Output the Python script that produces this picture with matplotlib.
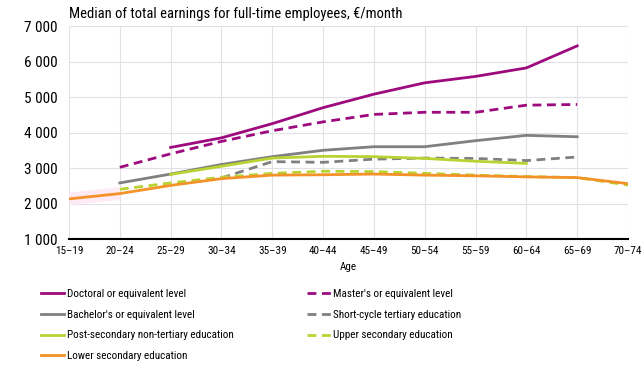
import matplotlib.pyplot as plt
import numpy as np

plt.rcParams['font.family'] = ['Roboto Condensed', 'DejaVu Sans']

ages = ["15\u201319", "20\u201324", "25\u201329", "30\u201334", "35\u201339", "40\u201344",
        "45\u201349", "50\u201354", "55\u201359", "60\u201364", "65\u201369", "70\u201374"]
nan = np.nan
doctoral = [nan, nan, 3580, 3850, 4250, 4700, 5080, 5400, 5580, 5820, 6440, nan]
master = [nan, 3020, 3400, 3750, 4050, 4300, 4510, 4570, 4570, 4770, 4790, nan]
bachelor = [nan, 2580, 2830, 3100, 3320, 3500, 3600, 3600, 3770, 3920, 3880, nan]
short_cycle = [nan, nan, nan, 2720, 3180, 3160, 3250, 3280, 3270, 3210, 3310, nan]
post_sec = [nan, nan, 2820, 3050, 3280, 3330, 3320, 3270, 3190, 3130, nan, nan]
upper_sec = [nan, 2400, 2580, 2740, 2850, 2910, 2900, 2850, 2800, 2760, 2730, 2520]
lower_sec = [2130, 2280, 2510, 2700, 2800, 2810, 2830, 2800, 2780, 2750, 2730, 2560]

purple = '#9c0a7e'
grey = '#808080'
green = '#b8d432'
orange = '#f39228'

fig = plt.figure(figsize=(6.43, 3.70), dpi=100)
ax = fig.add_axes([0.1073, 0.354, 0.8694, 0.5757])
x = np.arange(len(ages))
lw = 2.0
dash = (3.2, 2.0)

# faint pink halo on the first segment, as in the source
ax.plot(x[:2], lower_sec[:2], color='#fdeaf5', lw=9, zorder=1, solid_capstyle='butt')

h1, = ax.plot(x, doctoral, color=purple, lw=lw, label="Doctoral or equivalent level")
h2, = ax.plot(x, master, color=purple, lw=lw, dashes=dash, label="Master's or equivalent level")
h3, = ax.plot(x, bachelor, color=grey, lw=lw, label="Bachelor's or equivalent level")
h4, = ax.plot(x, short_cycle, color=grey, lw=lw, dashes=dash, label="Short-cycle tertiary education")
h5, = ax.plot(x, post_sec, color=green, lw=lw, label="Post-secondary non-tertiary education")
h6, = ax.plot(x, upper_sec, color=green, lw=lw, dashes=dash, label="Upper secondary education")
h7, = ax.plot(x, lower_sec, color=orange, lw=lw, label="Lower secondary education")

ax.set_xlim(0, len(ages) - 1)
ax.set_ylim(1000, 7000)
ax.set_xticks(x)
ax.set_xticklabels(ages, fontsize=8)
yt = [1000, 2000, 3000, 4000, 5000, 6000, 7000]
ax.set_yticks(yt)
ax.set_yticklabels([f"{v:,}".replace(",", " ") for v in yt], fontsize=11)
ax.grid(True, color='#e2e2e6', lw=0.8)
ax.set_axisbelow(True)
for s in ['left', 'right', 'top']:
    ax.spines[s].set_visible(False)
ax.spines['bottom'].set_color('black')
ax.spines['bottom'].set_linewidth(1.5)
ax.tick_params(axis='y', length=0, pad=8.5)
ax.tick_params(axis='x', length=0, pad=5)
ax.set_xlabel("Age", fontsize=8, labelpad=4)

fig.text(0.1073, 0.962, "Median of total earnings for full-time employees, \u20ac/month",
         fontsize=10.5, va='center', ha='left')

handles = [h1, h3, h5, h7, h2, h4, h6]
fig.legend(handles=handles, loc='upper left', bbox_to_anchor=(0.064, 0.218), ncol=2,
           frameon=False, fontsize=8, handlelength=2.1, handletextpad=0.25,
           columnspacing=6.6, labelspacing=0.95, borderaxespad=0, borderpad=0)

fig.savefig('out.png', dpi=100)
